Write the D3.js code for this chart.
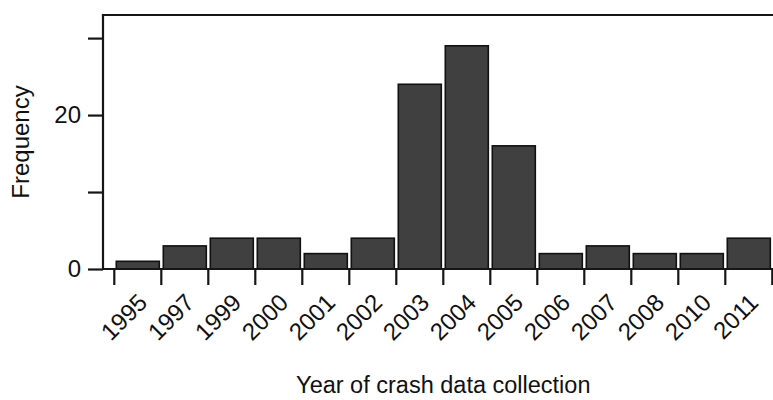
<!DOCTYPE html>
<html>
<head>
<meta charset="utf-8">
<script src="https://cdn.jsdelivr.net/npm/d3@7"></script>
<style>
  html, body { margin: 0; padding: 0; background: #fff; }
  svg { display: block; }
  text { font-family: "Liberation Sans", Arial, Helvetica, sans-serif; fill: #111; }
</style>
</head>
<body>
<svg id="chart" width="773" height="400"></svg>
<script>
// Number of crash-data studies per collection year
const years = ["1995", "1997", "1999", "2000", "2001", "2002", "2003",
               "2004", "2005", "2006", "2007", "2008", "2010", "2011"];
const frequency = [1, 3, 4, 4, 2, 4, 24, 29, 16, 2, 3, 2, 2, 4];
const yTicks = [0, 10, 20, 30];
const yTickLabels = ["0", "", "20", ""];

const W = 773, H = 400;
const svg = d3.select("#chart");

const axisLeftX = 103;
const tickStart = 114.3, tickEnd = 772.3;
const baseY = 269, frameTop = 15;

const x = d3.scaleBand()
  .domain(years)
  .range([tickStart, tickEnd])
  .paddingInner(0.085)
  .paddingOuter(0.0425);
const step = x.step();

const y = d3.scaleLinear().domain([0, 33]).range([baseY, frameTop]);

// Bars
svg.append("g")
  .selectAll("rect")
  .data(years.map((yr, i) => ({ yr, v: frequency[i] })))
  .join("rect")
  .attr("x", d => x(d.yr))
  .attr("width", x.bandwidth())
  .attr("y", d => y(d.v))
  .attr("height", d => y(0) - y(d.v))
  .attr("fill", "#404040")
  .attr("stroke", "#111")
  .attr("stroke-width", 1.6);

const lineColor = "#161616";

// Frame: left axis, top edge, baseline
svg.append("line")
  .attr("x1", axisLeftX).attr("x2", axisLeftX)
  .attr("y1", y(33)).attr("y2", y(0))
  .attr("stroke", lineColor).attr("stroke-width", 2.2);
svg.append("line")
  .attr("x1", axisLeftX - 1.1).attr("x2", W)
  .attr("y1", y(33)).attr("y2", y(33))
  .attr("stroke", lineColor).attr("stroke-width", 2.2);
svg.append("line")
  .attr("x1", axisLeftX).attr("x2", W)
  .attr("y1", y(0)).attr("y2", y(0))
  .attr("stroke", lineColor).attr("stroke-width", 2.2);

// Y axis ticks and labels
const yAxis = d3.axisLeft(y)
  .tickValues(yTicks)
  .tickSize(15)
  .tickPadding(7)
  .tickFormat((d, i) => yTickLabels[i]);
const gy = svg.append("g")
  .attr("transform", `translate(${axisLeftX},0)`)
  .call(yAxis);
gy.select(".domain").remove();
gy.selectAll(".tick line").attr("stroke", lineColor).attr("stroke-width", 2.2);
gy.selectAll(".tick text")
  .style("font-size", "24px")
  .attr("fill", "#111");

// X axis: ticks at bin boundaries
const boundaries = years.map(yr => x(yr) - step * x.paddingInner() / 2);
boundaries.push(boundaries[boundaries.length - 1] + step);
svg.append("g")
  .selectAll("line")
  .data(boundaries)
  .join("line")
  .attr("x1", d => d).attr("x2", d => d)
  .attr("y1", baseY).attr("y2", baseY + 16)
  .attr("stroke", lineColor).attr("stroke-width", 2.2);

// Rotated year labels
svg.append("g")
  .selectAll("text")
  .data(years)
  .join("text")
  .attr("transform", d => `translate(${x(d) + x.bandwidth() / 2 + 11},${baseY + 35}) rotate(-45)`)
  .attr("text-anchor", "end")
  .style("font-size", "24px")
  .text(d => d);

// Axis titles
svg.append("text")
  .attr("x", (tickStart + tickEnd) / 2)
  .attr("y", 393)
  .attr("text-anchor", "middle")
  .style("font-size", "23.5px")
  .text("Year of crash data collection");

svg.append("text")
  .attr("transform", `translate(29,${(y(33) + y(0)) / 2}) rotate(-90)`)
  .attr("text-anchor", "middle")
  .style("font-size", "24px")
  .text("Frequency");
</script>
</body>
</html>
